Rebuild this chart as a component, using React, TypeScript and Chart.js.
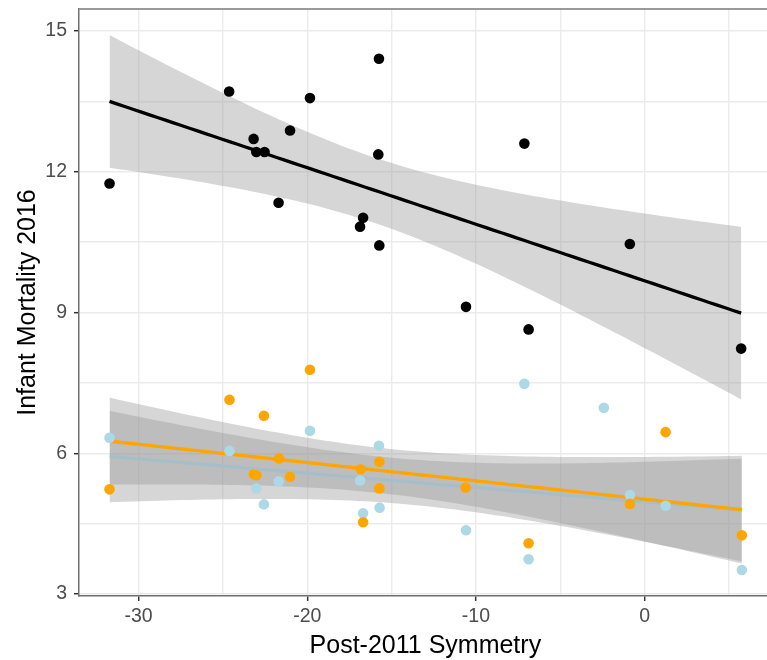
import React, { useEffect, useRef } from "react";
import { Chart, registerables } from "chart.js";

Chart.register(...registerables);

// ---- Data ----
const blackX = [-31.72, -24.63, -23.18, -23.02, -22.53, -21.70, -21.02, -19.84, -16.87, -16.69, -15.75, -15.79, -15.73, -10.59, -7.13, -6.88, -0.88, 5.72];
const blackY = [11.75, 13.71, 12.70, 12.42, 12.42, 11.34, 12.88, 13.57, 10.83, 11.02, 14.41, 12.37, 10.43, 9.12, 12.60, 8.64, 10.46, 8.23];

// (two blue points sit underneath orange points at x = -23.18 and -21.02)
const blueX = [-31.72, -24.61, -19.84, -23.18, -23.02, -22.57, -21.69, -21.02, -16.87, -16.69, -15.75, -15.71, -7.13, -2.42, -10.59, -6.88, -0.87, 1.24, 5.76];
const blueY = [6.33, 6.05, 6.48, 5.55, 5.25, 4.91, 5.40, 5.50, 5.42, 4.72, 6.16, 4.84, 7.48, 6.97, 4.36, 3.74, 5.11, 4.88, 3.51];

const orangeX = [-19.84, -24.61, -22.57, -31.72, -23.18, -23.02, -21.67, -21.02, -16.83, -15.73, -15.73, -16.69, -10.61, -6.88, -0.87, 1.24, 5.76];
const orangeY = [7.78, 7.14, 6.80, 5.23, 5.55, 5.53, 5.89, 5.50, 5.66, 5.82, 5.25, 4.53, 5.27, 4.08, 4.92, 6.45, 4.25];

const xMajorTicks = [-30, -20, -10, 0];
const xMinorTicks = [-25, -15, -5, 5];
const yMajorTicks = [3, 6, 9, 12, 15];
const yMinorTicks = [4.5, 7.5, 10.5, 13.5];

const xTitle = "Post-2011 Symmetry";
const yTitle = "Infant Mortality 2016";

const X_MIN = -33.53;
const X_MAX = 7.53;
const Y_MIN = 2.957;
const Y_MAX = 15.469;

// ---- Linear-model smooth (as geom_smooth(method = "lm")) ----
function t975(df: number): number {
  const z = 1.959964;
  const z3 = z * z * z, z5 = z3 * z * z, z7 = z5 * z * z;
  return (
    z +
    (z3 + z) / (4 * df) +
    (5 * z5 + 16 * z3 + 3 * z) / (96 * df * df) +
    (3 * z7 + 19 * z5 + 17 * z3 - 15 * z) / (384 * df * df * df)
  );
}

function lmSmooth(xs: number[], ys: number[], steps = 80) {
  const n = xs.length;
  const mx = xs.reduce((a, b) => a + b, 0) / n;
  const my = ys.reduce((a, b) => a + b, 0) / n;
  let sxx = 0, sxy = 0;
  for (let i = 0; i < n; i++) {
    sxx += (xs[i] - mx) ** 2;
    sxy += (xs[i] - mx) * (ys[i] - my);
  }
  const b = sxy / sxx;
  const a = my - b * mx;
  let sse = 0;
  for (let i = 0; i < n; i++) sse += (ys[i] - a - b * xs[i]) ** 2;
  const s = Math.sqrt(sse / (n - 2));
  const t = t975(n - 2);
  const lo = Math.min(...xs), hi = Math.max(...xs);
  const fit: { x: number; y: number }[] = [];
  const upper: { x: number; y: number }[] = [];
  const lower: { x: number; y: number }[] = [];
  for (let i = 0; i < steps; i++) {
    const x = lo + ((hi - lo) * i) / (steps - 1);
    const yhat = a + b * x;
    const se = s * Math.sqrt(1 / n + (x - mx) ** 2 / sxx);
    fit.push({ x, y: yhat });
    upper.push({ x, y: yhat + t * se });
    lower.push({ x, y: yhat - t * se });
  }
  return { fit, upper, lower };
}

const pts = (xs: number[], ys: number[]) => xs.map((x, i) => ({ x, y: ys[i] }));

const RIBBON = "rgba(153,153,153,0.4)";
const FONT = "'Liberation Sans', Arial, Helvetica, sans-serif";
const CANVAS_W = 777;
const CANVAS_H = 660;

export default function App() {
  const ref = useRef<HTMLCanvasElement | null>(null);

  useEffect(() => {
    if (!ref.current) return;
    const black = lmSmooth(blackX, blackY);
    const blue = lmSmooth(blueX, blueY);
    const orange = lmSmooth(orangeX, orangeY);

    const datasets: any[] = [];
    const addSmooth = (sm: any, color: string, baseOrder: number) => {
      const upIdx = datasets.length;
      datasets.push({
        type: "line",
        data: sm.upper,
        borderWidth: 0,
        borderColor: "rgba(0,0,0,0)",
        pointRadius: 0,
        backgroundColor: RIBBON,
        fill: upIdx + 1,
        order: baseOrder + 1,
        tension: 0,
      });
      datasets.push({
        type: "line",
        data: sm.lower,
        borderWidth: 0,
        borderColor: "rgba(0,0,0,0)",
        pointRadius: 0,
        fill: false,
        order: baseOrder + 1,
        tension: 0,
      });
      datasets.push({
        type: "line",
        data: sm.fit,
        borderWidth: 3.3,
        borderColor: color,
        pointRadius: 0,
        fill: false,
        order: baseOrder,
        tension: 0,
        borderCapStyle: "butt",
      });
    };
    addSmooth(black, "#000000", 8);
    addSmooth(blue, "#ADD8E6", 6);
    addSmooth(orange, "#FFA500", 4);

    const addPoints = (xs: number[], ys: number[], color: string, order: number) => {
      datasets.push({
        type: "scatter",
        data: pts(xs, ys),
        pointRadius: 5.3,
        pointBorderWidth: 0,
        pointBackgroundColor: color,
        backgroundColor: color,
        borderColor: color,
        showLine: false,
        order,
      });
    };
    addPoints(blackX, blackY, "#000000", 3);
    addPoints(blueX, blueY, "#ADD8E6", 2);
    addPoints(orangeX, orangeY, "#FFA500", 1);

    const topLine = {
      id: "topLine",
      beforeDatasetsDraw(chart: any) {
        const { ctx, chartArea } = chart;
        ctx.save();
        ctx.strokeStyle = "#9a9a9a";
        ctx.lineWidth = 2;
        ctx.beginPath();
        ctx.moveTo(chartArea.left, chartArea.top);
        ctx.lineTo(chartArea.right, chartArea.top);
        ctx.stroke();
        ctx.restore();
      },
    };

    const xAll = [...xMajorTicks, ...xMinorTicks].sort((a, b) => a - b);
    const yAll = [...yMajorTicks, ...yMinorTicks].sort((a, b) => a - b);

    const chart = new Chart(ref.current, {
      type: "scatter",
      data: { datasets },
      plugins: [topLine],
      options: {
        animation: false,
        responsive: false,
        devicePixelRatio: 1,
        layout: { padding: { top: 9, left: 0, right: 0, bottom: 0 } },
        plugins: {
          legend: { display: false },
          tooltip: { enabled: false },
        },
        scales: {
          x: {
            type: "linear",
            min: X_MIN,
            max: X_MAX,
            afterBuildTicks: (axis: any) => {
              axis.ticks = xAll.map((v) => ({ value: v }));
            },
            afterFit: (axis: any) => {
              axis.height = 64;
              axis.paddingLeft = 0;
              axis.paddingRight = 0;
              axis.paddingTop = 0;
              axis.paddingBottom = 0;
            },
            grid: {
              color: "#ebebeb",
              lineWidth: 1.4,
              drawTicks: true,
              tickLength: 5,
              tickWidth: 1.5,
              tickColor: (c: any) =>
                c.tick && xMajorTicks.includes(c.tick.value) ? "#333333" : "rgba(0,0,0,0)",
            },
            border: { display: true, color: "#707070", width: 1.5 },
            ticks: {
              autoSkip: false,
              maxRotation: 0,
              padding: 4,
              color: "#4d4d4d",
              font: { family: FONT, size: 19.5 },
              callback: (v: any) => (xMajorTicks.includes(Number(v)) ? String(v) : ""),
            },
            title: {
              display: true,
              text: xTitle,
              color: "#000000",
              font: { family: FONT, size: 25, lineHeight: 1 },
              padding: { top: 0, bottom: 1 },
            },
          },
          y: {
            type: "linear",
            min: Y_MIN,
            max: Y_MAX,
            afterBuildTicks: (axis: any) => {
              axis.ticks = yAll.map((v) => ({ value: v }));
            },
            afterFit: (axis: any) => {
              axis.width = 79;
              axis.paddingLeft = 0;
              axis.paddingRight = 0;
              axis.paddingTop = 0;
              axis.paddingBottom = 0;
            },
            grid: {
              color: "#ebebeb",
              lineWidth: 1.4,
              drawTicks: true,
              tickLength: 5,
              tickWidth: 1.5,
              tickColor: (c: any) =>
                c.tick && yMajorTicks.includes(c.tick.value) ? "#333333" : "rgba(0,0,0,0)",
            },
            border: { display: true, color: "#707070", width: 1.5 },
            ticks: {
              autoSkip: false,
              padding: 7,
              color: "#4d4d4d",
              font: { family: FONT, size: 19.5 },
              callback: (v: any) => (yMajorTicks.includes(Number(v)) ? String(v) : ""),
            },
            title: {
              display: true,
              text: yTitle,
              color: "#000000",
              font: { family: FONT, size: 25, lineHeight: 1 },
              padding: { top: 15.5, bottom: 0 },
            },
          },
        },
      } as any,
    });
    return () => chart.destroy();
  }, []);

  return (
    <div
      style={{
        position: "absolute",
        left: 0,
        top: 0,
        width: 767,
        height: 660,
        overflow: "hidden",
        background: "#fff",
      }}
    >
      <canvas
        ref={ref}
        width={CANVAS_W}
        height={CANVAS_H}
        style={{ display: "block", width: CANVAS_W, height: CANVAS_H }}
      />
    </div>
  );
}
